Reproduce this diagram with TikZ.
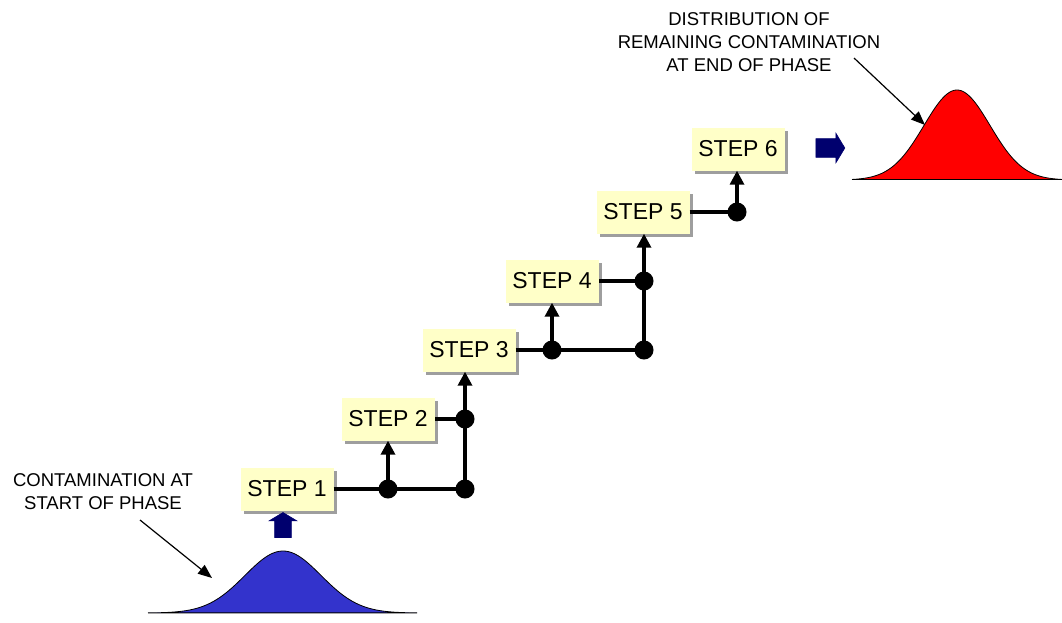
\documentclass[tikz,border=0pt]{standalone}
\usepackage{fontspec}
\setmainfont{Liberation Sans}
\usetikzlibrary{arrows.meta,shapes.arrows,shadows}
\definecolor{stepfill}{RGB}{255,255,200}
\definecolor{navy}{RGB}{0,0,110}
\definecolor{startblue}{RGB}{51,51,204}
\definecolor{endred}{RGB}{255,0,0}
\begin{document}
\begin{tikzpicture}[x=1pt,y=-1pt,
  stepbox/.style={fill=stepfill, minimum width=93pt, minimum height=43pt, inner sep=0pt,
    font=\fontsize{23}{27}\selectfont,
    drop shadow={shadow xshift=3pt, shadow yshift=-3pt, fill=black!38, opacity=1}},
  dot/.style={circle, fill=black, minimum size=19pt, inner sep=0pt},
  conn/.style={line width=3.3pt},
  uparrow/.style={conn, -{Triangle[length=14pt,width=14pt]}},
  blockarrow/.style={single arrow, fill=navy, draw=navy, line width=0.6pt,
    inner xsep=0pt, single arrow tip angle=118},
  caption/.style={align=center, font=\fontsize{18.5}{23}\selectfont},
  callout/.style={line width=1.2pt, -{Triangle[length=14pt,width=11pt]}},
  bell/.style={draw=black, line width=0.8pt}]
  \useasboundingbox (0,0) rectangle (1062,622);

  % distributions
  \filldraw[bell, fill=startblue] (148,613)
    plot[domain=-135:134, samples=120] ({283+\x},{613-62*exp(-0.5*(\x/38)^2)}) -- cycle;
  \filldraw[bell, fill=endred] (852,180)
    plot[domain=-105:105, samples=120] ({957+\x},{180-90*exp(-0.5*(\x/33)^2)}) -- cycle;

  % step boxes
  \node[stepbox] (s1) at (287,489) {STEP 1};
  \node[stepbox] (s2) at (388,419) {STEP 2};
  \node[stepbox] (s3) at (469,350) {STEP 3};
  \node[stepbox] (s4) at (552,281) {STEP 4};
  \node[stepbox] (s5) at (643,212) {STEP 5};
  \node[stepbox] (s6) at (738,149) {STEP 6};

  % junction dots
  \node[dot] (d1) at (388,489) {};
  \node[dot] (d2) at (465,489) {};
  \node[dot] (d3) at (465,419) {};
  \node[dot] (d4) at (552,350) {};
  \node[dot] (d5) at (644,350) {};
  \node[dot] (d6) at (644,281) {};
  \node[dot] (d7) at (737,212) {};

  % flow lines
  \draw[conn] (s1.east) -- (d1.center) -- (d2.center) -- (d3.center) -- (s2.east);
  \draw[uparrow] (d1.center) -- (d1 |- s2.south);
  \draw[uparrow] (d3.center) -- (d3 |- s3.south);
  \draw[conn] (s3.east) -- (d4.center) -- (d5.center) -- (d6.center) -- (s4.east);
  \draw[uparrow] (d4.center) -- (d4 |- s4.south);
  \draw[uparrow] (d6.center) -- (d6 |- s5.south);
  \draw[conn] (s5.east) -- (d7.center);
  \draw[uparrow] (d7.center) -- (d7 |- s6.south);

  % block arrows
  \node[blockarrow, rotate=90, inner ysep=8pt, single arrow head extend=5.5pt,
    minimum height=25pt] (inarrow) at (283,527.5) {};
  \node[blockarrow, inner ysep=9pt, single arrow head extend=5.5pt,
    minimum height=29pt] (outarrow) at (827.5,148) {};

  % captions with pointers
  \node[caption] (startlbl) at (103,492) {CONTAMINATION AT\\START OF PHASE};
  \node[caption] (endlbl) at (749,42) {DISTRIBUTION OF\\REMAINING CONTAMINATION\\AT END OF PHASE};
  \coordinate (starttail) at (140,520);
  \coordinate (starttip) at (212,578);
  \coordinate (endtail) at (854,58);
  \coordinate (endtip) at (925,125);
  \draw[callout] (starttail) -- (starttip);
  \draw[callout] (endtail) -- (endtip);
\end{tikzpicture}
\end{document}
